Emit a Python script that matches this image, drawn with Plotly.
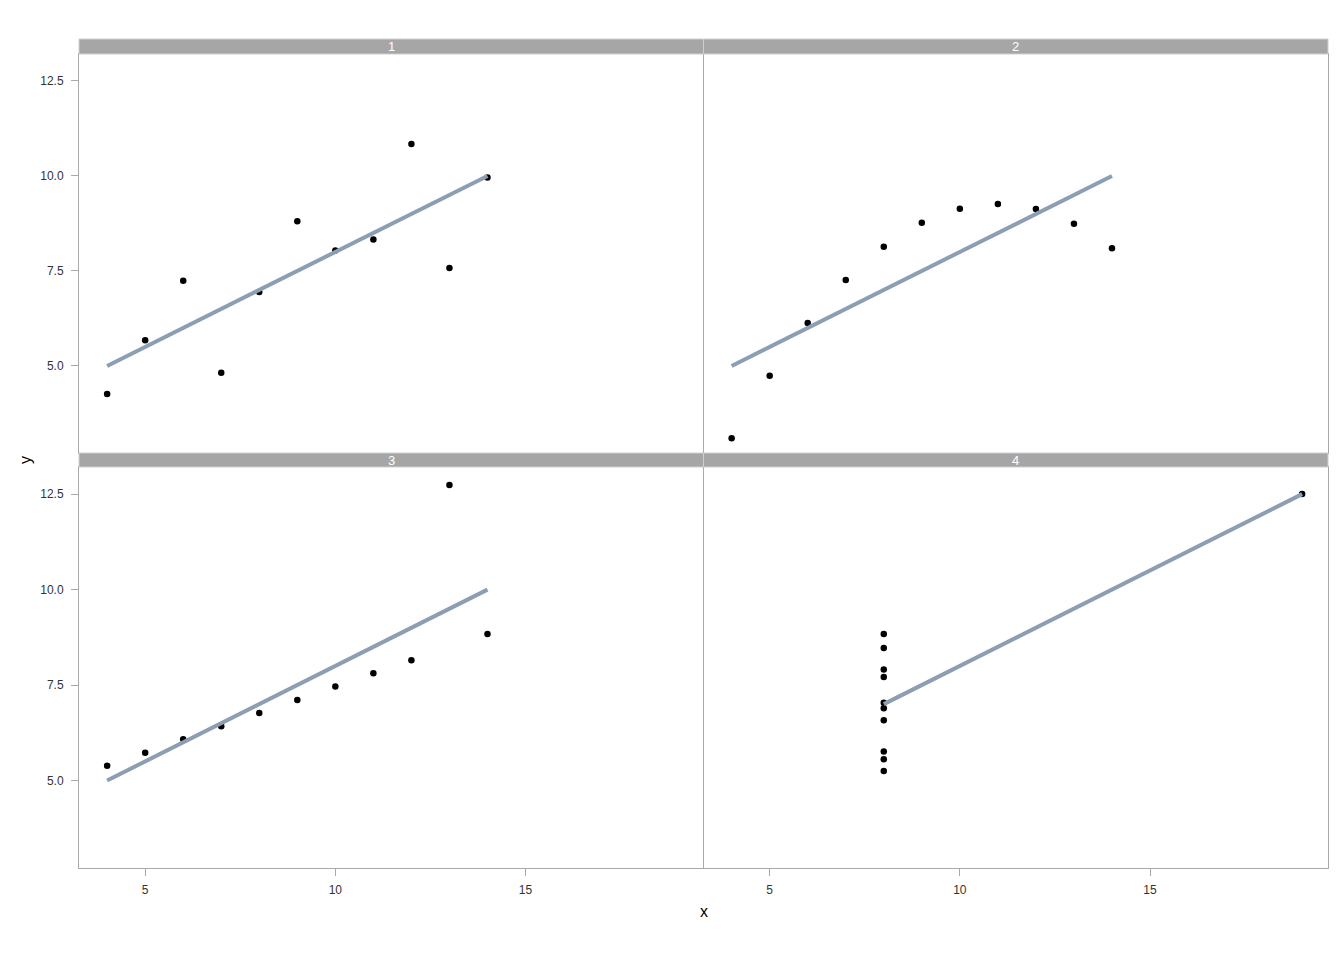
import numpy as np
import plotly.graph_objects as go

# Anscombe's quartet
panels = ["1", "2", "3", "4"]
x_123 = [10, 8, 13, 9, 11, 14, 6, 4, 12, 7, 5]
x_4 = [8, 8, 8, 8, 8, 8, 8, 19, 8, 8, 8]
y_1 = [8.04, 6.95, 7.58, 8.81, 8.33, 9.96, 7.24, 4.26, 10.84, 4.82, 5.68]
y_2 = [9.14, 8.14, 8.74, 8.77, 9.26, 8.10, 6.13, 3.10, 9.13, 7.26, 4.74]
y_3 = [7.46, 6.77, 12.74, 7.11, 7.81, 8.84, 6.08, 5.39, 8.15, 6.42, 5.73]
y_4 = [6.58, 5.76, 7.71, 8.84, 8.47, 7.04, 5.25, 12.50, 5.56, 7.91, 6.89]
xs = [x_123, x_123, x_123, x_4]
ys = [y_1, y_2, y_3, y_4]
y_ticks = [5.0, 7.5, 10.0, 12.5]
x_ticks = [5, 10, 15]

# page body adds an 8px offset, so the figure is drawn 8px smaller
off = 8
W, H = 1344 - off, 960 - off
ml, mr, mt, mb = 79 - off, 16, 39 - off, 92
ph = H - mt - mb

def py(px):  # pixel row of the window -> paper y
    return (H + off - mb - px) / ph

row_dom = [[py(453), py(54)], [py(868), py(467)]]
strip_dom = [[py(54), 1.0], [py(467), py(453)]]
col_dom = [[0, 0.5], [0.5, 1]]

xr = [3.26, 19.68]
yr = [2.71, 13.21]
grey = "#a9a9a9"
line_col = "#8b9eb2"

fig = go.Figure()
shapes, annots = [], []
for i, name in enumerate(panels):
    r, c = divmod(i, 2)
    k = "" if i == 0 else str(i + 1)
    x = np.array(xs[i]); y = np.array(ys[i])
    fig.add_trace(go.Scatter(x=x, y=y, mode="markers", xaxis="x" + k, yaxis="y" + k,
                             marker=dict(color="black", size=6.5), showlegend=False))
    slope, icpt = np.polyfit(x, y, 1)
    lx = np.array([x.min(), x.max()])
    fig.add_trace(go.Scatter(x=lx, y=icpt + slope * lx, mode="lines", xaxis="x" + k, yaxis="y" + k,
                             line=dict(color=line_col, width=4), showlegend=False))
    fig.layout["xaxis" + k] = dict(
        domain=col_dom[c], range=xr, anchor="y" + k, showgrid=False, zeroline=False,
        showline=True, mirror=True, linecolor=grey, linewidth=1,
        tickvals=x_ticks if r == 1 else [], ticks="outside" if r == 1 else "",
        ticklen=7, tickcolor=grey, ticklabelstandoff=4,
        tickfont=dict(size=12, color="#333"))
    # left panels skip the mirrored right edge: the right panels' left line draws it
    fig.layout["yaxis" + k] = dict(
        domain=row_dom[r], range=yr, anchor="x" + k, showgrid=False, zeroline=False,
        showline=True, mirror=(c == 1), linecolor=grey, linewidth=1,
        tickvals=y_ticks if c == 0 else [], ticktext=[f"{v:.1f}" for v in y_ticks] if c == 0 else [],
        ticks="outside" if c == 0 else "", ticklen=7, tickcolor=grey, ticklabelstandoff=5,
        tickfont=dict(size=12, color="#333"))
    shapes.append(dict(type="rect", xref="paper", yref="paper",
                       x0=col_dom[c][0], x1=col_dom[c][1], y0=strip_dom[r][0], y1=strip_dom[r][1],
                       fillcolor="#a6a6a6", line=dict(color="#cfcfcf", width=1), layer="above"))
    annots.append(dict(text=name, xref="paper", yref="paper",
                       x=sum(col_dom[c]) / 2, y=sum(strip_dom[r]) / 2,
                       showarrow=False, font=dict(color="white", size=13),
                       xanchor="center", yanchor="middle"))

annots.append(dict(text="x", xref="paper", yref="paper", x=0.5, y=py(911),
                   showarrow=False, font=dict(size=16, color="black"), yanchor="middle"))
annots.append(dict(text="y", xref="paper", yref="paper", x=(25 - 79) / (W - ml - mr), y=py(460),
                   showarrow=False, font=dict(size=16, color="black"), textangle=-90,
                   xanchor="center", yanchor="middle"))

fig.update_layout(width=W, height=H, margin=dict(l=ml, r=mr, t=mt, b=mb),
                  paper_bgcolor="white", plot_bgcolor="white",
                  font=dict(family="Liberation Sans, Arial, sans-serif"),
                  shapes=shapes, annotations=annots)
fig.write_html("out.html")
